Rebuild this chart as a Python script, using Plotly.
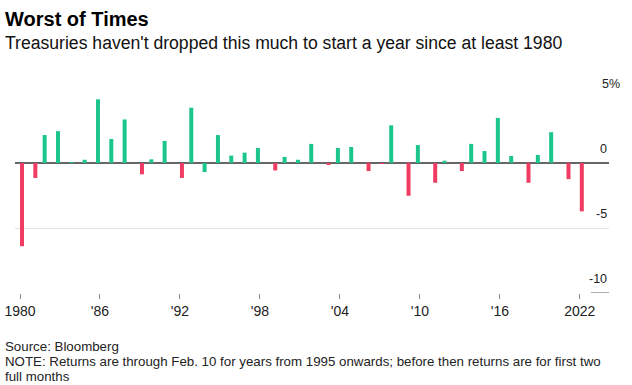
import plotly.graph_objects as go

# ---- data ----
years = list(range(1980, 2023))
# returns (%); green series and red series
green_vals = [None, None, 2.15, 2.45, 0.05, 0.25, 4.9, 1.85, 3.35, None,
              0.28, 1.7, None, 4.25, -0.7, 2.15, 0.57, 0.8, 1.15, None,
              0.47, 0.25, 1.47, None, 1.15, 1.23, None, None, 2.9, None,
              1.38, None, 0.18, None, 1.47, 0.92, 3.47, 0.54, None, 0.62,
              2.37, None, None]
red_vals = [-6.4, -1.15, None, None, None, None, None, None, None, -0.87,
            None, None, -1.15, None, None, None, None, None, None, -0.57,
            None, None, None, -0.1, None, None, -0.62, -0.05, None, -2.52,
            None, -1.52, None, -0.62, None, None, None, None, -1.52, None,
            None, -1.24, -3.72]

xtick_vals = [1980, 1986, 1992, 1998, 2004, 2010, 2016, 2022]
xtick_text = ["1980", "'86", "'92", "'98", "'04", "'10", "'16", "2022"]
ytick_vals = [5, 0, -5, -10]
ytick_text = ["5%", "0", "-5", "-10"]

title = "Worst of Times"
subtitle = "Treasuries haven't dropped this much to start a year since at least 1980"
source = "Source: Bloomberg"
note1 = "NOTE: Returns are through Feb. 10 for years from 1995 onwards; before then returns are for first two"
note2 = "full months"

GREEN = "#1cc68a"
RED = "#f03c62"
FONT = "Liberation Sans, Arial, sans-serif"

W, H = 632, 385
ML, MR, MT, MB = 15, 23, 98, 92
PW = W - ML - MR
PH = H - MT - MB


def px(xp):
    return (xp - ML) / PW


def py(yp):
    return (H - MB - yp) / PH


fig = go.Figure()
fig.add_trace(go.Bar(x=years, y=green_vals, marker_color=GREEN, marker_line_width=0,
                     name="up", showlegend=False))
fig.add_trace(go.Bar(x=years, y=red_vals, marker_color=RED, marker_line_width=0,
                     name="down", showlegend=False))

fig.update_layout(
    width=W, height=H,
    margin=dict(l=ML, r=MR, t=MT, b=MB, autoexpand=False),
    paper_bgcolor="white", plot_bgcolor="white",
    barmode="group", bargap=0.4, bargroupgap=0,
    font=dict(family=FONT, color="#222"),
    showlegend=False,
)
fig.update_xaxes(
    range=[1979.625, 2024.19], automargin=False,
    tickmode="array", tickvals=xtick_vals, ticktext=xtick_text,
    ticks="outside", ticklen=5, tickcolor="#8a8a8a", tickwidth=1,
    showgrid=False, zeroline=False, showline=False,
    tickfont=dict(size=14, color="#222"),
)
fig.update_yaxes(
    range=[-10, 5], automargin=False,
    tickmode="array", tickvals=[5, -5],
    showticklabels=False, showgrid=True, gridcolor="#e3e3e3", gridwidth=1,
    zeroline=True, zerolinecolor="#666", zerolinewidth=1.5,
    showline=False,
)

# short dash at the -10 level near its label
fig.add_shape(type="line", xref="paper", yref="y", x0=px(591), x1=1.0, y0=-10, y1=-10,
              line=dict(color="#777", width=1.2))

for v, t in zip(ytick_vals, ytick_text):
    shift = 13 if t.endswith("%") else 0
    fig.add_annotation(x=1.0, y=v, xref="paper", yref="y", text=t, showarrow=False,
                       xanchor="right", yanchor="bottom", xshift=shift, yshift=5,
                       font=dict(size=12.5, color="#222"))

fig.add_annotation(x=px(3), y=py(19), xref="paper", yref="paper", text="<b>" + title + "</b>",
                   showarrow=False, xanchor="left", yanchor="middle",
                   font=dict(size=20, color="#000"))
fig.add_annotation(x=px(3), y=py(43), xref="paper", yref="paper", text=subtitle,
                   showarrow=False, xanchor="left", yanchor="middle",
                   font=dict(size=17.6, color="#111"))
for ypix, txt in [(346, source), (361, note1), (376.5, note2)]:
    fig.add_annotation(x=px(3), y=py(ypix), xref="paper", yref="paper", text=txt,
                       showarrow=False, xanchor="left", yanchor="middle",
                       font=dict(size=13.3, color="#222"))

fig.write_html("out.html", config={"displayModeBar": False},
               post_script="document.body.style.margin='0';")
